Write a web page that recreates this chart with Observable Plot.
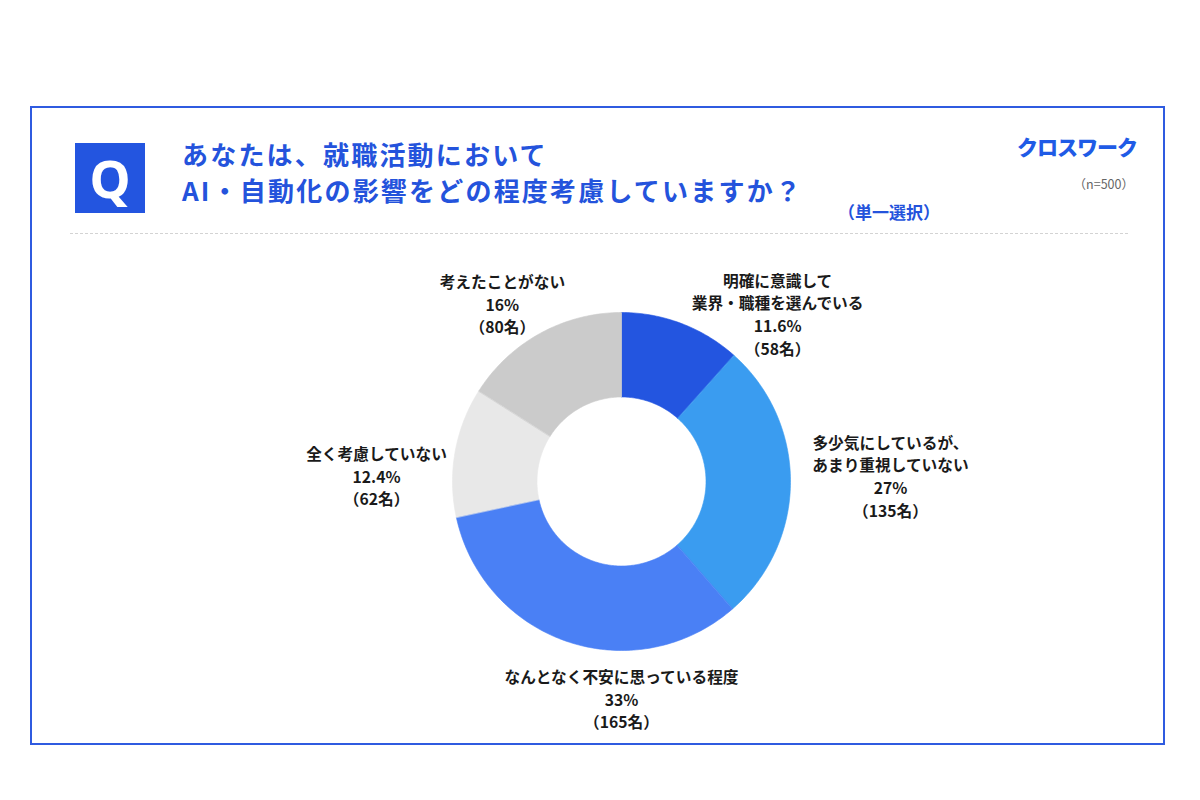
<!DOCTYPE html>
<html lang="ja">
<head>
<meta charset="utf-8">
<script src="https://cdn.jsdelivr.net/npm/d3@7"></script>
<script src="https://cdn.jsdelivr.net/npm/@observablehq/plot@0.6"></script>
<style>
  html, body { margin: 0; padding: 0; background: #fff; }
  body { font-family: "Noto Sans CJK JP", "Noto Sans", sans-serif; }
  #page { position: relative; width: 1200px; height: 800px; overflow: hidden; }
  #frame { position: absolute; left: 30px; top: 106px; width: 1135px; height: 639px; box-sizing: border-box; border: 2px solid #2F5BE0; }
  #qbox { position: absolute; left: 75px; top: 143px; width: 70px; height: 70px; background: #2355E0; color: #fff; font-family: "Noto Sans", "Open Sans", sans-serif; font-weight: 700; font-size: 52px; line-height: 70px; text-align: center; }
  #title { position: absolute; left: 182px; top: 136px; font-size: 26px; font-weight: 700; line-height: 36px; letter-spacing: 2.2px; color: #2453DC; white-space: nowrap; }
  #select { position: absolute; left: 838px; top: 200px; font-size: 17px; font-weight: 700; line-height: 24px; color: #2453DC; }
  #logo { position: absolute; right: 63px; top: 131px; font-size: 21px; font-weight: 900; line-height: 30px; letter-spacing: -1px; color: #1F5BE6; }
  #n { position: absolute; right: 66px; top: 175px; font-size: 12.5px; line-height: 18px; color: #666; }
  #dash { position: absolute; left: 70px; top: 233px; width: 1058px; height: 0; border-top: 1px dashed #d3d3d3; }
  #chart { position: absolute; left: 0; top: 0; }
</style>
</head>
<body>
<div id="page">
  <div id="frame"></div>
  <div id="qbox">Q</div>
  <div id="title">あなたは、就職活動において<br>AI・自動化の影響をどの程度考慮していますか？</div>
  <div id="select">（単一選択）</div>
  <div id="logo">クロスワーク</div>
  <div id="n">（n=500）</div>
  <div id="dash"></div>
  <div id="chart"></div>
</div>
<script>
// ---- data ----
const categories = [
  "明確に意識して\n業界・職種を選んでいる",
  "多少気にしているが、\nあまり重視していない",
  "なんとなく不安に思っている程度",
  "全く考慮していない",
  "考えたことがない"
];
const percents = [11.6, 27, 33, 12.4, 16];
const counts = [58, 135, 165, 62, 80];
const percentLabels = ["11.6%", "27%", "33%", "12.4%", "16%"];

// ---- style / layout ----
const colors = ["#2355E0", "#3A9CF0", "#4A80F5", "#E8E8E8", "#CBCBCB"];
const innerRatio = 0.5;
// label anchors: polar angle (deg, clockwise from top) and radius (in outer-radius units)
const labelAngles = [42.9, 88.7, 180, 271.4, 326.2];
const labelRadii = [1.357, 1.592, 1.284, 1.450, 1.267];

// build ring polygons from the values
const total = d3.sum(percents);
const rows = [];
let acc = 0;
percents.forEach((v, i) => {
  const a0 = acc / total * 2 * Math.PI;
  acc += v;
  const a1 = acc / total * 2 * Math.PI;
  const n = Math.max(8, Math.ceil((a1 - a0) / (Math.PI / 180)));
  for (let k = 0; k <= n; k++) {
    const a = a0 + (a1 - a0) * k / n;
    rows.push({cat: categories[i], x: Math.sin(a), y: -Math.cos(a)});
  }
  for (let k = n; k >= 0; k--) {
    const a = a0 + (a1 - a0) * k / n;
    rows.push({cat: categories[i], x: innerRatio * Math.sin(a), y: -innerRatio * Math.cos(a)});
  }
});

const labels = categories.map((c, i) => {
  const a = labelAngles[i] * Math.PI / 180;
  return {
    x: labelRadii[i] * Math.sin(a),
    y: -labelRadii[i] * Math.cos(a),
    text: `${c}\n${percentLabels[i]}\n（${counts[i]}名）`
  };
});

const R = 169, cx = 621, cy = 481;
const chart = Plot.plot({
  width: 1200,
  height: 800,
  margin: 0,
  style: {background: "transparent", fontFamily: "'Noto Sans CJK JP', sans-serif"},
  x: {type: "linear", domain: [-cx / R, (1200 - cx) / R], range: [0, 1200], axis: null},
  y: {type: "linear", domain: [-cy / R, (800 - cy) / R], range: [0, 800], axis: null},
  color: {type: "ordinal", domain: categories, range: colors},
  marks: [
    Plot.line(rows, {x: "x", y: "y", z: "cat", fill: "cat", stroke: "cat", strokeWidth: 0.6, curve: "linear-closed"}),
    Plot.text(labels, {x: "x", y: "y", text: "text", fontSize: 15.7, fontWeight: 700, lineHeight: 1.44, fill: "#1a1a1a", textAnchor: "middle", lineAnchor: "middle"})
  ]
});
document.getElementById("chart").appendChild(chart);
</script>
</body>
</html>
